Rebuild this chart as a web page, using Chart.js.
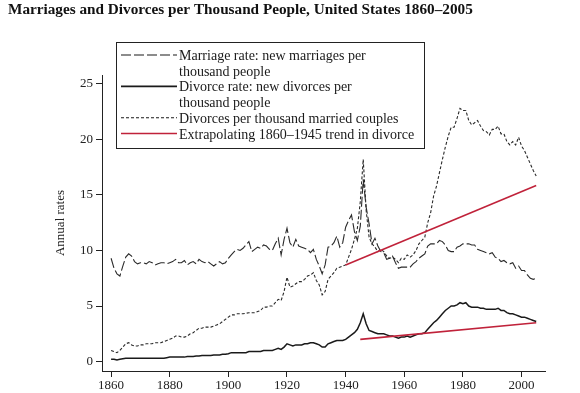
<!DOCTYPE html>
<html>
<head>
<meta charset="utf-8">
<script src="https://cdn.jsdelivr.net/npm/chart.js@4/dist/chart.umd.min.js"></script>
<style>
html,body{margin:0;padding:0;background:#fff;}
#wrap{position:relative;width:580px;height:393px;}
</style>
</head>
<body>
<div id="wrap"><canvas id="c" width="580" height="393"></canvas></div>
<script>
// ---- data ----
const startYear = 1860;
const marriageRate = [
9.3,8.4,7.9,7.7,8.6,9.4,9.7,9.5,9.0,8.8,
8.9,8.9,8.8,9.0,8.9,8.7,8.8,8.9,8.9,8.8,
8.9,9.0,9.2,8.9,8.9,9.1,8.7,8.9,9.0,8.8,
9.2,9.0,8.9,9.0,8.8,8.6,8.8,9.0,8.8,8.9,
9.3,9.6,9.9,10.1,10.0,10.2,10.5,10.8,9.9,10.1,
10.3,10.2,10.5,10.4,10.1,10.0,10.6,11.1,9.6,11.0,
12.0,10.7,10.3,11.0,10.4,10.3,10.2,10.1,9.8,10.1,
9.2,8.6,7.9,8.7,10.3,10.4,10.7,11.3,10.3,10.7,
12.1,12.7,13.2,11.7,10.9,12.2,16.4,13.9,12.4,10.6,
11.1,10.4,9.9,9.8,9.2,9.3,9.5,8.9,8.4,8.5,
8.5,8.5,8.5,8.8,9.0,9.3,9.5,9.7,10.4,10.6,
10.6,10.6,10.9,10.8,10.5,10.0,9.9,9.9,10.3,10.4,
10.6,10.6,10.6,10.5,10.5,10.1,10.0,9.9,9.8,9.7,
9.8,9.4,9.3,9.0,9.1,8.9,8.8,8.9,8.4,8.6,
8.2,8.2,7.8,7.5,7.4,7.5];
const divorceRate = [
0.2,0.2,0.15,0.2,0.25,0.3,0.3,0.3,0.3,0.3,
0.3,0.3,0.3,0.3,0.3,0.3,0.3,0.3,0.3,0.35,
0.4,0.4,0.4,0.4,0.4,0.4,0.45,0.45,0.45,0.5,
0.5,0.55,0.55,0.55,0.55,0.6,0.6,0.6,0.65,0.65,
0.7,0.8,0.8,0.8,0.8,0.8,0.8,0.9,0.9,0.9,
0.9,0.9,1.0,1.0,1.0,1.0,1.1,1.2,1.1,1.3,
1.6,1.5,1.4,1.5,1.5,1.5,1.6,1.6,1.7,1.7,
1.6,1.5,1.3,1.3,1.6,1.7,1.8,1.9,1.9,1.9,
2.0,2.2,2.4,2.6,2.9,3.5,4.3,3.4,2.8,2.7,
2.6,2.5,2.5,2.5,2.4,2.3,2.3,2.2,2.1,2.2,
2.2,2.3,2.2,2.3,2.4,2.5,2.5,2.6,2.9,3.2,
3.5,3.7,4.0,4.3,4.6,4.8,5.0,5.0,5.1,5.3,
5.2,5.3,5.0,4.9,4.9,4.9,4.8,4.8,4.7,4.7,
4.7,4.7,4.8,4.6,4.6,4.4,4.3,4.3,4.2,4.1,
4.0,4.0,3.9,3.8,3.7,3.6];
const divorcesPerMarried = [
1.0,0.9,0.8,1.0,1.3,1.6,1.7,1.5,1.4,1.4,
1.5,1.5,1.6,1.6,1.6,1.7,1.7,1.7,1.8,1.9,
2.0,2.1,2.3,2.3,2.2,2.2,2.3,2.5,2.6,2.8,
3.0,3.0,3.1,3.1,3.1,3.2,3.3,3.4,3.6,3.8,
4.0,4.2,4.2,4.3,4.3,4.3,4.35,4.4,4.4,4.4,
4.5,4.6,4.9,4.9,5.0,5.0,5.3,5.6,5.5,6.3,
7.6,6.7,6.8,7.0,7.2,7.2,7.4,7.7,7.8,8.0,
7.3,6.9,6.0,6.3,7.4,7.7,8.0,8.4,8.5,8.6,
8.7,9.4,10.1,11.0,12.0,14.4,18.2,13.6,11.2,10.6,
10.3,9.9,10.1,9.9,9.5,9.3,9.4,9.2,8.9,9.3,
9.2,9.6,9.4,9.6,10.0,10.6,10.9,11.2,12.5,13.4,
14.9,15.8,17.0,18.2,19.3,20.3,21.1,21.1,21.9,22.8,
22.6,22.6,21.7,21.3,21.5,21.7,21.2,20.8,20.7,20.4,
20.9,20.9,21.2,20.5,20.5,19.8,19.5,19.8,19.5,20.2,
19.4,19.0,18.4,17.8,17.2,16.7];
const trendCouplesYears = [1940, 2005];
const trendCouplesValues = [8.7, 15.85];
const trendDivorceYears = [1945, 2005];
const trendDivorceValues = [2.0, 3.5];
const xTicks = [1860,1880,1900,1920,1940,1960,1980,2000];
const yTicks = [0,5,10,15,20,25];
const titleText = "Marriages and Divorces per Thousand People, United States 1860\u20132005";
const yAxisTitle = "Annual rates";
const legendItems = [
  {lines:["Marriage rate: new marriages per","thousand people"], dash:[10,3], color:"#1a1a1a", width:1.1},
  {lines:["Divorce rate: new divorces per","thousand people"], dash:[], color:"#1a1a1a", width:1.6},
  {lines:["Divorces per thousand married couples"], dash:[3,2], color:"#1a1a1a", width:1.1},
  {lines:["Extrapolating 1860\u20131945 trend in divorce"], dash:[], color:"#c0223a", width:1.6}
];

// ---- build ----
const toPts = (ys, vs) => vs.map((v,i)=>({x: ys[i], y: v}));
const annual = vs => vs.map((v,i)=>({x: startYear+i, y: v}));
const SERIF = "'Liberation Serif', 'DejaVu Serif', serif";

function fitFont(ctx, text, weight, base, target){
  ctx.font = weight + " " + base + "px " + SERIF;
  const w = ctx.measureText(text).width;
  return base * target / w;
}

const overlay = {
  id: 'overlay',
  afterDraw(chart){
    const ctx = chart.ctx;
    ctx.save();
    // title
    const ts = fitFont(ctx, titleText, "bold", 15, 465);
    ctx.font = "bold " + ts.toFixed(2) + "px " + SERIF;
    ctx.fillStyle = "#111";
    ctx.textBaseline = "alphabetic";
    ctx.textAlign = "left";
    ctx.fillText(titleText, 8, 14);
    // y axis title
    ctx.save();
    ctx.translate(61, 223);
    ctx.rotate(-Math.PI/2);
    ctx.font = "13px " + SERIF;
    ctx.textAlign = "center";
    ctx.textBaseline = "middle";
    ctx.fillStyle = "#222";
    ctx.fillText(yAxisTitle, 0, 0);
    ctx.restore();
    // legend box
    ctx.fillStyle = "#fff";
    ctx.fillRect(116, 42, 308, 106);
    ctx.strokeStyle = "#222";
    ctx.lineWidth = 1;
    ctx.setLineDash([]);
    ctx.strokeRect(116.5, 42.5, 308, 106);
    const fs = fitFont(ctx, legendItems[0].lines[0], "", 13, 187);
    ctx.font = fs.toFixed(2) + "px " + SERIF;
    ctx.fillStyle = "#1a1a1a";
    ctx.textAlign = "left";
    ctx.textBaseline = "alphabetic";
    let base = 60;
    const step = 15.7;
    legendItems.forEach(item => {
      const ly = base - 5;
      ctx.beginPath();
      ctx.setLineDash(item.dash);
      ctx.strokeStyle = item.color;
      ctx.lineWidth = item.width;
      ctx.moveTo(121, ly);
      ctx.lineTo(177, ly);
      ctx.stroke();
      ctx.setLineDash([]);
      item.lines.forEach((t, k) => {
        ctx.fillText(t, 179, base + k*step);
      });
      base += step * item.lines.length;
    });
    ctx.restore();
  }
};

new Chart(document.getElementById('c'), {
  type: 'line',
  data: {
    datasets: [
      {label:'trendCouples', data: toPts(trendCouplesYears, trendCouplesValues), borderColor:'#c0223a', borderWidth:1.6},
      {label:'trendDivorce', data: toPts(trendDivorceYears, trendDivorceValues), borderColor:'#c0223a', borderWidth:1.6},
      {label:'Divorce rate', data: annual(divorceRate), borderColor:'#1a1a1a', borderWidth:1.5},
      {label:'Marriage rate', data: annual(marriageRate), borderColor:'#2a2a2a', borderWidth:1.1, borderDash:[10,3]},
      {label:'Divorces per married', data: annual(divorcesPerMarried), borderColor:'#2a2a2a', borderWidth:1.1, borderDash:[3,2]}
    ]
  },
  options: {
    responsive: false,
    animation: false,
    devicePixelRatio: 1,
    elements: { point: { radius: 0 }, line: { tension: 0, fill: false } },
    layout: { padding: { top: 75, right: 35, left: 0, bottom: 0 } },
    plugins: { legend: { display: false }, tooltip: { enabled: false }, title: { display: false } },
    scales: {
      x: {
        type: 'linear', min: 1856.9, max: 2008,
        afterBuildTicks: s => { s.ticks = xTicks.map(v => ({value: v})); },
        afterFit: s => { s.height = 22; },
        grid: { drawOnChartArea: false, drawTicks: true, tickLength: 6, color: '#222', tickWidth: 1 },
        border: { display: true, color: '#222', width: 1 },
        ticks: { color: '#222', padding: 1, maxRotation: 0, autoSkip: false,
          font: { family: SERIF, size: 13 }, callback: v => String(v) }
      },
      y: {
        type: 'linear', min: -0.85, max: 25.8,
        afterBuildTicks: s => { s.ticks = yTicks.map(v => ({value: v})); },
        afterFit: s => { s.width = 102; },
        grid: { drawOnChartArea: false, drawTicks: true, tickLength: 6, color: '#222', tickWidth: 1 },
        border: { display: true, color: '#222', width: 1 },
        ticks: { color: '#222', padding: 3, autoSkip: false,
          font: { family: SERIF, size: 13 }, callback: v => String(v) }
      }
    }
  },
  plugins: [overlay]
});
</script>
</body>
</html>
